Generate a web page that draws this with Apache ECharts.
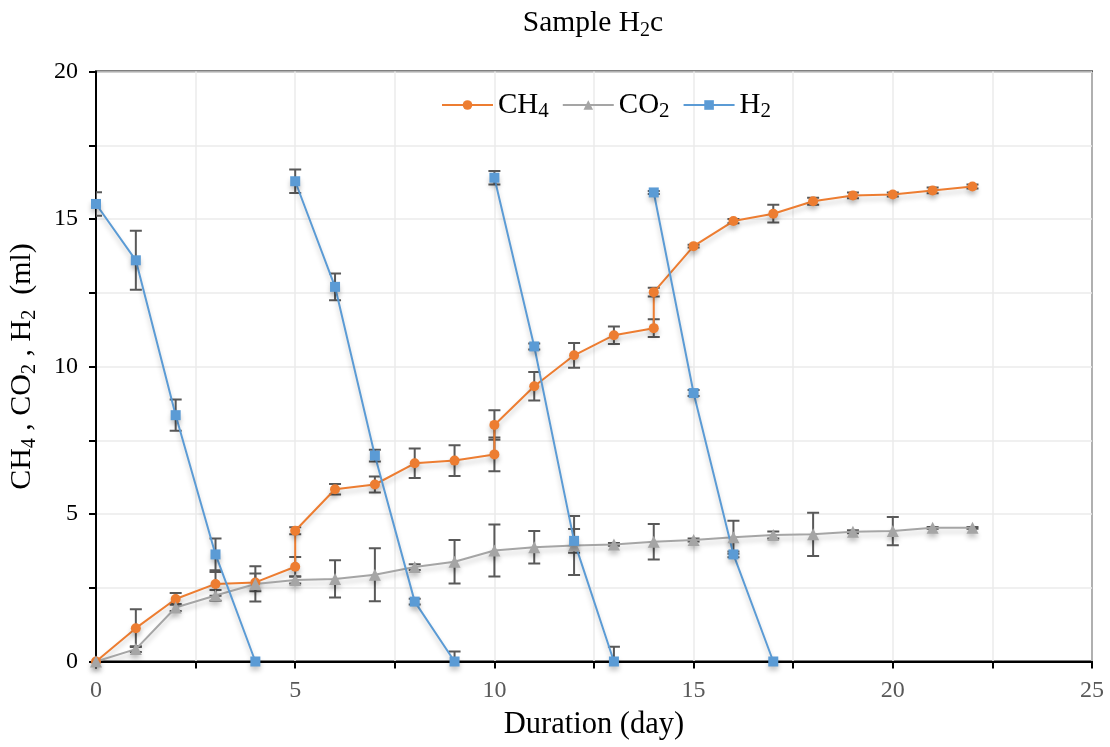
<!DOCTYPE html>
<html>
<head>
<meta charset="utf-8">
<script src="https://cdn.jsdelivr.net/npm/echarts@6/dist/echarts.min.js"></script>
<style>html,body{margin:0;padding:0;background:#fff}#c{width:1110px;height:747px}</style>
</head>
<body>
<div id="c"></div>
<script>
// ---- data ----
const ch4X = [0,1,2,3,4,5,5,6,7,8,9,10,10,11,12,13,14,14,15,16,17,18,19,20,21,22];
const ch4Y = [0,1.13,2.12,2.63,2.68,3.21,4.43,5.84,6.0,6.72,6.81,7.02,8.02,9.33,10.38,11.06,11.3,12.52,14.08,14.93,15.18,15.6,15.8,15.83,15.97,16.1];
const ch4E = [0,0.64,0.2,0.4,0.3,0.33,0.12,0.18,0.27,0.5,0.52,0.57,0.5,0.48,0.42,0.3,0.3,0.15,0.05,0.07,0.3,0.12,0.1,0.07,0.1,0.07];

const co2X = [0,1,2,3,4,5,6,7,8,9,10,11,12,13,14,15,16,17,18,19,20,21,22];
const co2Y = [0,0.42,1.83,2.24,2.63,2.76,2.8,2.94,3.2,3.38,3.76,3.87,3.93,3.97,4.06,4.12,4.21,4.29,4.31,4.4,4.42,4.53,4.53];
const co2E = [0,0.1,0.12,0.18,0.6,0.12,0.63,0.9,0.1,0.74,0.88,0.55,1.0,0.05,0.6,0.05,0.56,0.12,0.73,0.05,0.48,0.03,0.03];

// null marks a break between feeding cycles
const h2X = [0,1,2,3,4,null,5,6,7,8,9,null,10,11,12,13,null,14,15,16,17];
const h2Y = [15.51,13.6,8.35,3.63,0,null,16.28,12.7,6.98,2.03,0,null,16.4,10.68,4.09,0,null,15.9,9.1,3.63,0];
const h2E = [0.4,1.0,0.53,0.54,0,null,0.4,0.45,0.2,0.1,0.34,null,0.23,0.1,0.4,0.5,null,0.05,0.1,0.1,0];

const xTicks = [0,5,10,15,20,25];
const yTicks = [0,5,10,15,20];

const names = ['CH₄','CO₂','H₂'];
const legendRich = {'CH₄':'CH{s|4}', 'CO₂':'CO{s|2}', 'H₂':'H{s|2}'};
const colors = ['#ED7D31','#A5A5A5','#5B9BD5'];

// ---- build ----
function pairs(xs, ys){ return xs.map((x,i)=> x===null ? ['-','-'] : [x, ys[i]]); }
function errs(xs, ys, es){
  const out=[];
  xs.forEach((x,i)=>{ if(x!==null && es[i]>0) out.push([x, Math.max(0, ys[i]-es[i]), ys[i]+es[i], ys[i]-es[i] < 0 ? 1 : 0]); });
  return out;
}
function errSeries(data){
  return {
    type:'custom', data, z:1, silent:true, clip:true,
    encode:{x:0, y:[1,2]},
    renderItem(params, api){
      const x = api.value(0), lo = api.value(1), hi = api.value(2), clipped = api.value(3);
      const pt = api.coord([x, hi]), pb = api.coord([x, lo]);
      const w = 6;
      const st = {stroke:'#595959', lineWidth:2};
      const ch = [
        {type:'line', shape:{x1:pt[0], y1:pt[1], x2:pb[0], y2:pb[1]}, style:st},
        {type:'line', shape:{x1:pt[0]-w, y1:pt[1], x2:pt[0]+w, y2:pt[1]}, style:st}
      ];
      if(!clipped) ch.push({type:'line', shape:{x1:pb[0]-w, y1:pb[1], x2:pb[0]+w, y2:pb[1]}, style:st});
      return {type:'group', children:ch};
    }
  };
}
const shadow = {shadowColor:'rgba(0,0,0,0.22)', shadowBlur:5, shadowOffsetY:4};
function lineSeries(name, data, color, symbol){
  return {
    name, type:'line', data, symbol, symbolSize: symbol==='triangle' ? 12 : 10,
    connectNulls:false, z:3,
    lineStyle:Object.assign({color, width:2}, shadow),
    itemStyle:Object.assign({color}, shadow)
  };
}

const serif = '"Liberation Serif", "Times New Roman", serif';
const chart = echarts.init(document.getElementById('c'), null, {renderer:'canvas'});
chart.setOption({
  animation:false,
  backgroundColor:'#fff',
  textStyle:{fontFamily:serif},
  title:{
    text:'Sample H{s|2}c', left:593, top:5, textAlign:'center', padding:0,
    textStyle:{fontFamily:serif, fontSize:29.5, fontWeight:'normal', color:'#000', lineHeight:36,
      rich:{s:{fontFamily:serif, fontSize:20, lineHeight:13.6, verticalAlign:'bottom', color:'#000'}}}
  },
  legend:{
    data:names, left:441, top:88, padding:0, itemWidth:51, itemHeight:12, itemGap:13,
    formatter:n=>legendRich[n],
    textStyle:{fontFamily:serif, fontSize:29, color:'#000', lineHeight:34,
      rich:{s:{fontFamily:serif, fontSize:21, lineHeight:28.6, verticalAlign:'bottom', color:'#000'}}}
  },
  grid:{left:96, right:18, top:71.5, bottom:85.5, show:true, borderColor:'#000', borderWidth:2,
    containLabel:false, outerBoundsMode:'none'},
  xAxis:{
    type:'value', min:0, max:25, interval:2.5,
    name:'Duration (day)', nameLocation:'middle', nameGap:48,
    nameTextStyle:{fontFamily:serif, fontSize:30.5, color:'#000'},
    axisLine:{lineStyle:{color:'#000', width:2}},
    axisTick:{show:true, length:7, lineStyle:{color:'#000', width:2}},
    splitLine:{show:true, lineStyle:{color:'#EBEBEB', width:1.5}},
    axisLabel:{fontFamily:serif, fontSize:24, color:'#595959', margin:17,
      formatter:v=> xTicks.includes(v) ? String(v) : ''}
  },
  yAxis:{
    type:'value', min:0, max:20, interval:2.5,
    name:'CH{s|4} , CO{s|2} , H{s|2}  (ml)', nameLocation:'middle', nameGap:56, nameRotate:90,
    nameTextStyle:{fontFamily:serif, fontSize:30, color:'#000', lineHeight:36,
      rich:{s:{fontFamily:serif, fontSize:20, lineHeight:11.25, verticalAlign:'bottom', color:'#000'}}},
    axisLine:{show:true, lineStyle:{color:'#000', width:2}},
    axisTick:{show:true, length:7, lineStyle:{color:'#000', width:2}},
    splitLine:{show:true, lineStyle:{color:'#EBEBEB', width:1.5}},
    axisLabel:{fontFamily:serif, fontSize:24, color:'#000', margin:18,
      formatter:v=> yTicks.includes(v) ? String(v) : ''}
  },
  series:[
    errSeries(errs(ch4X, ch4Y, ch4E)),
    errSeries(errs(co2X, co2Y, co2E)),
    errSeries(errs(h2X, h2Y, h2E)),
    lineSeries(names[0], pairs(ch4X, ch4Y), colors[0], 'circle'),
    lineSeries(names[1], pairs(co2X, co2Y), colors[1], 'triangle'),
    lineSeries(names[2], pairs(h2X, h2Y), colors[2], 'rect')
  ]
});
</script>
</body>
</html>
